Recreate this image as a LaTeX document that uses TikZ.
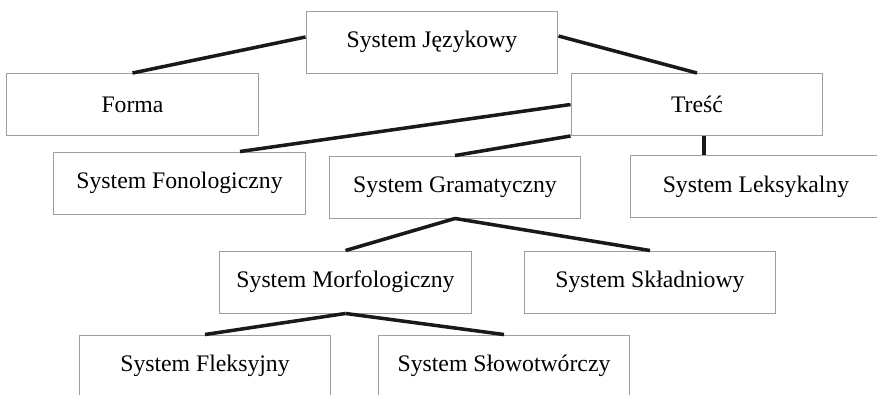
\documentclass[tikz,border=0pt]{standalone}
\usepackage{fontspec}
\setmainfont{Liberation Serif}
\tikzset{
  box/.style={rectangle, draw=black!38, line width=0.55pt, minimum width=5.04cm, minimum height=1.24cm, inner sep=0pt, font=\fontsize{13.5}{16}\selectfont},
  link/.style={line width=2pt, black!90}
}
\begin{document}
\begin{tikzpicture}[x=0.02cm, y=-0.02cm]
\useasboundingbox (0,0) rectangle (877,395);

\node[box] (SJ) at (432,42) {System Językowy};
\node[box] (Forma) at (132.5,104.5) {Forma};
\node[box] (Tresc) at (697,104.5) {Treść};
\node[box] (Fono) at (179.5,183) {System Fonologiczny};
\node[box] (Gram) at (455,187) {System Gramatyczny};
\node[box] (Leks) at (756,186.5) {System Leksykalny};
\node[box] (Morf) at (345.5,282) {System Morfologiczny};
\node[box] (Sklad) at (650,282) {System Składniowy};
\node[box] (Fleks) at (205,366) {System Fleksyjny};
\node[box] (Slowo) at (504,366) {System Słowotwórczy};

\coordinate (TL) at ([xshift=0.14cm]Tresc.south);

\path[link] ([yshift=0.1cm]SJ.west) edge node {} (Forma.north);
\path[link] ([yshift=0.12cm]SJ.east) edge node {} (Tresc.north);
\path[link] (Tresc.west) edge node {} ([xshift=1.21cm]Fono.north);
\path[link] (Tresc.south west) edge node {} (Gram.north);
\path[link] (TL) edge node {} (TL |- Leks.north);
\path[link] (Gram.south) edge node {} (Morf.north);
\path[link] (Gram.south) edge node {} (Sklad.north);
\path[link] (Morf.south) edge node {} (Fleks.north);
\path[link] (Morf.south) edge node {} (Slowo.north);
\end{tikzpicture}
\end{document}
